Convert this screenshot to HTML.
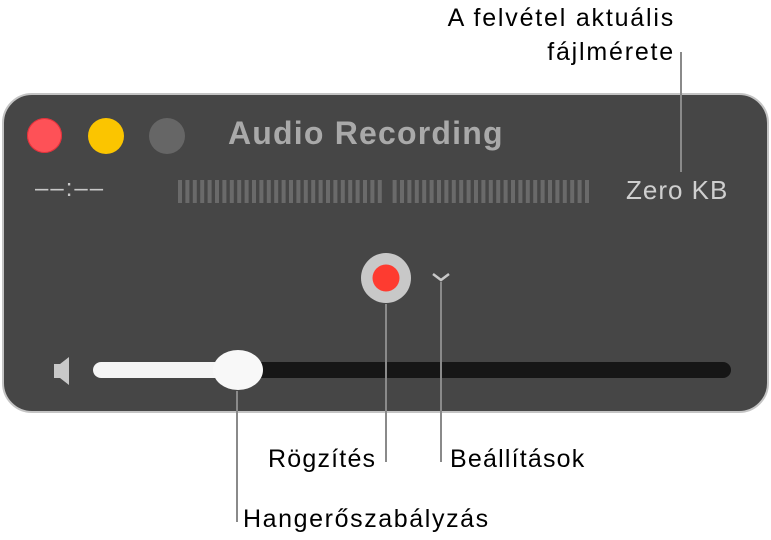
<!DOCTYPE html>
<html><head><meta charset="utf-8"><style>
body{margin:0;width:771px;height:540px;background:#fff;position:relative;overflow:hidden;font-family:"Liberation Sans",sans-serif}
.a{position:absolute;white-space:nowrap}
.l{font-size:25px;color:#000;letter-spacing:1.2px}
</style></head><body>
<div class="a" style="left:2px;top:93px;width:763px;height:316px;background:#464646;border:2px solid #c4c4c4;border-radius:30px"></div>
<div class="a" style="left:27px;top:118px;width:35px;height:35px;border-radius:50%;background:#fe5157;box-shadow:inset 0 0 0 1px #e0303a"></div>
<div class="a" style="left:88px;top:118px;width:36px;height:36px;border-radius:50%;background:#fbc500"></div>
<div class="a" style="left:149px;top:118px;width:36px;height:36px;border-radius:50%;background:#666"></div>
<div class="a" style="left:228px;top:115px;font-size:32px;font-weight:bold;color:#a9a9a9;letter-spacing:1.2px">Audio Recording</div>
<div class="a" style="left:35px;top:175px;font-size:24px;color:#c8c8c8;letter-spacing:2px">––:––</div>
<svg class="a" style="left:0;top:0" width="771" height="540">
<g fill="#6a6a6a" id="bars"></g>
<circle cx="386" cy="278" r="25" fill="#c8c8c8"/>
<circle cx="386" cy="278" r="13.5" fill="#fe3b30"/>
<path d="M433 274 L441 280 L449 274" stroke="#c8c8c8" stroke-width="2.5" fill="none"/>
<path d="M54 364 h6 l9 -7 v28 l-9 -7 h-6z" fill="#c8c8c8"/>
<rect x="93" y="362" width="638" height="16" rx="8" fill="#161616"/>
<rect x="93" y="362" width="150" height="16" rx="8" fill="#f5f5f5"/>
<ellipse cx="238" cy="370" rx="25" ry="20" fill="#f8f8f8"/>
<g stroke="#8a8a8a" stroke-width="2">
<line x1="386" y1="304" x2="386" y2="462"/>
<line x1="441" y1="282" x2="441" y2="462"/>
<line x1="237" y1="391" x2="237" y2="522"/>
<line x1="681" y1="52" x2="681" y2="172"/>
</g>
</svg>
<div class="a" style="left:626px;top:175px;font-size:26px;color:#cfcfcf;letter-spacing:1px">Zero KB</div>
<div class="a" style="right:96px;top:1px;font-size:25px;color:#000;text-align:right;line-height:34px;letter-spacing:1.8px">A felvétel aktuális<br>fájlmérete</div>
<div class="a l" style="left:268px;top:445px">Rögzítés</div>
<div class="a l" style="left:450px;top:445px">Beállítások</div>
<div class="a l" style="left:243px;top:505px;letter-spacing:1.6px">Hangerőszabályzás</div>
<script>
var g=document.getElementById('bars'),s='';
for(var x=178;x<592;x+=7.4){if(x>380&&x<388)continue;s+='<rect x="'+x.toFixed(1)+'" y="180" width="4" height="23"/>';}
g.innerHTML=s;
</script>
</body></html>
